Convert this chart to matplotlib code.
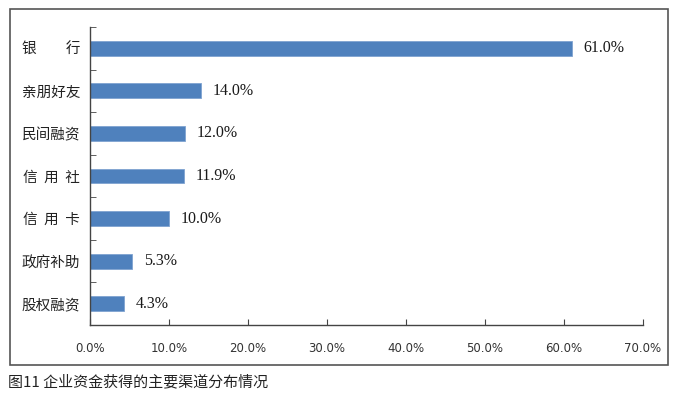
import matplotlib
matplotlib.use('Agg')
import matplotlib.pyplot as plt
from matplotlib.patches import Rectangle
import numpy as np

plt.rcParams['font.family'] = ['Noto Sans CJK SC', 'DejaVu Sans']

categories = ['银\u3000\u3000行', '亲朋好友', '民间融资', '信  用  社',
              '信  用  卡', '政府补助', '股权融资']
shares = [61.0, 14.0, 12.0, 11.9, 10.0, 5.3, 4.3]
value_labels = ['61.0%', '14.0%', '12.0%', '11.9%', '10.0%', '5.3%', '4.3%']
xticks = [0, 10, 20, 30, 40, 50, 60, 70]
xtick_labels = ['%.1f%%' % v for v in xticks]
caption = '图11 企业资金获得的主要渠道分布情况'

fig = plt.figure(figsize=(6.85, 3.98), dpi=100)
ax = fig.add_axes([0.1314, 0.1834, 0.8073, 0.7488])

pos = np.arange(len(categories))[::-1]
ax.barh(pos, shares, height=0.35, color='#4F81BD', edgecolor='#7FA3D1', linewidth=0.6)
for p, s, lab in zip(pos, shares, value_labels):
    ax.text(s + 1.5, p, lab, va='center', ha='left', fontsize=11.5,
            family='Liberation Serif', color='#1a1a1a')

ax.set_xlim(0, 70)
ax.set_ylim(-0.5, len(categories) - 0.5)
ax.set_yticks(pos)
ax.set_yticklabels(categories, fontsize=10.5, color='#222222')
ax.set_yticks(np.arange(-0.5, len(categories), 1.0), minor=True)
ax.set_xticks(xticks)
ax.set_xticklabels(xtick_labels, fontsize=8.5, family='DejaVu Sans', color='#333333')

ax.tick_params(axis='y', which='major', length=0, pad=7)
ax.tick_params(axis='y', which='minor', direction='in', length=4, color='#444444')
ax.tick_params(axis='x', direction='in', length=4, pad=12, color='#444444')
for side in ['top', 'right']:
    ax.spines[side].set_visible(False)
for side in ['left', 'bottom']:
    ax.spines[side].set_color('#444444')
    ax.spines[side].set_linewidth(1.0)

frame = Rectangle((10 / 685, 1 - 365 / 398), 658 / 685, 356 / 398,
                  transform=fig.transFigure, fill=False,
                  edgecolor='#555555', linewidth=1.2)
fig.patches.append(frame)

fig.text(8 / 685, 1 - 382 / 398, caption, fontsize=10.8, va='center', ha='left', color='#222222')

plt.savefig('out.png', dpi=100)
